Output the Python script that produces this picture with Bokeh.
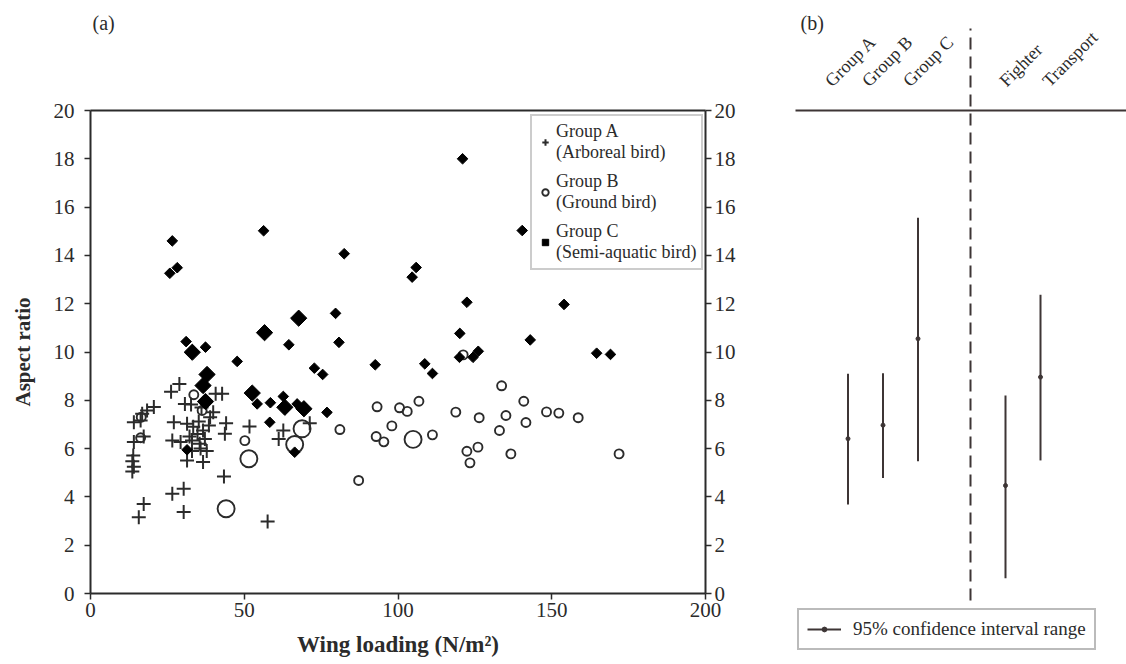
import numpy as np
from bokeh.plotting import figure
from bokeh.layouts import row
from bokeh.models import (Range1d, LinearAxis, SingleIntervalTicker, FixedTicker,
                          Legend, LegendItem, Label)
from bokeh.core.properties import value
from bokeh.embed import file_html
from bokeh.resources import INLINE

SERIF = "Liberation Serif"
INK = "#2b2b2b"
BAR = "#3d3535"

# ---------------- (a) wing loading vs aspect ratio ----------------
# Group A: arboreal birds
a_wing_loading = [28.9, 26.2, 42.8, 40.7, 30.7, 39.9, 32.7,
                  20.6, 18.4, 16.8, 14.1, 16.3,
                  27.1, 31.4, 35.2, 38.5, 44.1, 51.7,
                  43.7, 17.3, 14.1, 26.6, 29.3, 33.0, 35.5, 36.6,
                  13.9, 13.6, 14.1, 13.6,
                  31.4, 36.6, 43.4, 26.6, 30.3, 30.3, 17.3, 15.7, 57.6,
                  62.7, 61.2, 71.3,
                  33.4, 34.8, 37.2, 35.8, 37.8, 33.0, 38.9, 36.1, 32.2]
a_aspect_ratio = [8.68, 8.35, 8.27, 8.27, 7.85, 7.51, 7.83,
                  7.72, 7.58, 7.44, 7.09, 7.16,
                  7.09, 7.03, 7.12, 6.96, 7.05, 6.91,
                  6.61, 6.50, 6.27, 6.34, 6.27, 6.34, 6.20, 6.75,
                  5.71, 5.48, 5.25, 5.05,
                  5.51, 5.44, 4.84, 4.13, 4.34, 3.37, 3.71, 3.16, 2.98,
                  6.75, 6.40, 7.05,
                  6.90, 6.60, 6.40, 6.00, 5.90, 5.90, 7.30, 7.70, 6.50]

# Group B: ground birds (n = species sharing a point)
b_wing_loading = [33.6, 36.3, 16.5, 16.3, 50.2, 51.5, 44.1,
                  68.8, 66.4, 81.1, 87.2,
                  93.2, 100.5, 103.0, 106.8, 98.0, 92.9, 95.4, 104.9, 111.2,
                  118.8, 121.2, 122.4, 126.0, 123.4, 126.4, 133.7, 135.1,
                  133.0, 136.7, 140.9, 141.6, 148.3, 152.3, 158.6, 171.9]
b_aspect_ratio = [8.23, 7.58, 7.30, 6.45, 6.33, 5.58, 3.51,
                  6.82, 6.17, 6.79, 4.68,
                  7.73, 7.69, 7.54, 7.96, 6.94, 6.50, 6.28, 6.38, 6.57,
                  7.51, 9.88, 5.89, 6.06, 5.41, 7.28, 8.60, 7.37,
                  6.75, 5.78, 7.96, 7.08, 7.52, 7.47, 7.28, 5.78]
b_n = [1, 1, 1, 1, 1, 2, 2,
       2, 2, 1, 1,
       1, 1, 1, 1, 1, 1, 1, 2, 1,
       1, 1, 1, 1, 1, 1, 1, 1,
       1, 1, 1, 1, 1, 1, 1, 1]

# Group C: semi-aquatic birds
c_wing_loading = [26.6, 28.2, 25.8, 56.3, 82.5, 105.9, 104.6, 121.0, 140.4,
                  122.4, 154.0, 120.1, 143.0, 120.0, 124.4, 126.1, 164.6, 169.1,
                  108.7, 111.2, 92.6,
                  79.7, 80.8, 67.7, 56.6, 64.5, 72.8, 75.5,
                  31.1, 33.1, 37.4, 47.7, 37.9, 36.6, 37.4, 52.6, 54.2, 58.5,
                  62.7, 63.2, 67.2, 69.4, 76.9, 58.3, 66.4, 31.4]
c_aspect_ratio = [14.60, 13.49, 13.26, 15.02, 14.07, 13.50, 13.10, 18.00, 15.03,
                  12.06, 11.97, 10.77, 10.50, 9.78, 9.78, 10.03, 9.95, 9.90,
                  9.51, 9.11, 9.47,
                  11.60, 10.40, 11.40, 10.80, 10.30, 9.33, 9.07,
                  10.43, 9.99, 10.20, 9.61, 9.07, 8.61, 7.95, 8.30, 7.85, 7.90,
                  8.16, 7.71, 7.85, 7.65, 7.50, 7.09, 5.85, 5.95]
c_n = [1, 1, 1, 1, 1, 1, 1, 1, 1,
       1, 1, 1, 1, 1, 1, 1, 1, 1,
       1, 1, 1,
       1, 1, 2, 2, 1, 1, 1,
       1, 2, 1, 1, 2, 2, 2, 2, 1, 1,
       1, 2, 1, 2, 1, 1, 1, 1]

# ---------------- (b) 95% confidence intervals of aspect ratio ----------------
bird_groups = ["Group A", "Group B", "Group C"]
bird_mean = [6.41, 6.97, 10.55]
bird_low = [3.69, 4.78, 5.48]
bird_high = [9.10, 9.12, 15.56]

aircraft = ["Fighter", "Transport"]
aircraft_mean = [4.47, 8.96]
aircraft_low = [0.63, 5.51]
aircraft_high = [8.20, 12.37]

# ---------------- page geometry ----------------
H = 664
WA, WB = 765, 361                     # widths of the two panels
Y0_PX, Y20_PX = 593, 110              # rows of aspect ratio 0 and 20
X0_PX, X200_PX = 90, 705              # columns of wing loading 0 and 200
px_per_unit = (Y0_PX - Y20_PX) / 20.0
y_start = -(H - Y0_PX) / px_per_unit
y_end = Y0_PX / px_per_unit
px_per_wl = (X200_PX - X0_PX) / 200.0


def y_at(px):
    return (Y0_PX - px) / px_per_unit


def style_axis(ax):
    ax.axis_line_color = INK
    ax.axis_line_width = 2
    ax.major_tick_line_color = INK
    ax.major_tick_line_width = 1.5
    ax.major_tick_in = 0
    ax.major_tick_out = 6
    ax.minor_tick_line_color = None
    ax.major_label_text_font = SERIF
    ax.major_label_text_font_size = "21px"
    ax.major_label_text_color = INK
    ax.major_label_standoff = 8
    ax.axis_label_text_font = SERIF
    ax.axis_label_text_font_style = "bold"
    ax.axis_label_text_font_size = "21px"
    ax.axis_label_text_color = INK


# ---------------- panel (a) ----------------
pa = figure(width=WA, height=H,
            x_range=Range1d(-X0_PX / px_per_wl, (WA - X0_PX) / px_per_wl),
            y_range=Range1d(y_start, y_end),
            output_backend="svg", toolbar_location=None,
            x_axis_location=None, y_axis_location=None,
            min_border_left=0, min_border_right=0,
            min_border_top=0, min_border_bottom=0)
pa.grid.visible = False
pa.outline_line_color = None
pa.background_fill_color = "white"
pa.border_fill_color = "white"

x_axis = LinearAxis(ticker=SingleIntervalTicker(interval=50), fixed_location=0,
                    bounds=(0, 200), axis_label="Wing loading (N/m\u00b2)")
top_edge = LinearAxis(ticker=FixedTicker(ticks=[]), fixed_location=20, bounds=(0, 200))
y_axis = LinearAxis(ticker=SingleIntervalTicker(interval=2), fixed_location=0,
                    bounds=(0, 20), axis_label="Aspect ratio")
y_axis_r = LinearAxis(ticker=SingleIntervalTicker(interval=2), fixed_location=200,
                      bounds=(0, 20))
pa.add_layout(x_axis, "below")
pa.add_layout(top_edge, "above")
pa.add_layout(y_axis, "left")
pa.add_layout(y_axis_r, "right")
for ax in (x_axis, top_edge, y_axis, y_axis_r):
    style_axis(ax)

x_axis.major_label_standoff = 3
x_axis.axis_label_standoff = 12
x_axis.axis_label_text_font_size = "23px"
y_axis.major_label_standoff = 10
y_axis.axis_label_standoff = 16
y_axis_r.major_label_standoff = 3

b_size = [9 if n == 1 else 17 for n in b_n]
c_size = [7.5 if n == 1 else 11.5 for n in c_n]

ra = pa.scatter(a_wing_loading, a_aspect_ratio, marker="cross", size=14,
                line_color=INK, line_width=2)
rb = pa.scatter(b_wing_loading, b_aspect_ratio, marker="circle", size=b_size,
                fill_color=None, line_color=INK, line_width=1.9)
rc = pa.scatter(c_wing_loading, c_aspect_ratio, marker="square", angle=np.pi / 4,
                size=c_size, fill_color="black", line_color="black", line_width=1)

legend_a = Legend(items=[
    LegendItem(label="Group A\n(Arboreal bird)", renderers=[ra]),
    LegendItem(label="Group B\n(Ground bird)", renderers=[rb]),
    LegendItem(label="Group C\n(Semi-aquatic bird)", renderers=[rc]),
], location=(530, H - 270))
legend_a.label_text_font = SERIF
legend_a.label_text_font_size = "18px"
legend_a.label_text_color = INK
legend_a.label_text_line_height = 1.2
legend_a.glyph_width = 16
legend_a.glyph_height = 16
legend_a.label_standoff = 3
legend_a.spacing = 8
legend_a.padding = 5
legend_a.margin = 0
legend_a.border_line_color = "#9a9a9a"
legend_a.border_line_width = 2
pa.add_layout(legend_a)

pa.add_layout(Label(x=0, y=y_at(22), x_offset=2, text="(a)",
                    text_font=SERIF, text_font_size="20px", text_color=INK,
                    text_baseline="middle"))

# ---------------- panel (b) ----------------
PX_PER_SLOT = 35.0
B_LEFT = 795 - WA                     # where the rule of panel (b) starts
xb_start = -B_LEFT / PX_PER_SLOT
xb_end = (WB - B_LEFT) / PX_PER_SLOT

pb = figure(width=WB, height=H, x_range=Range1d(xb_start, xb_end),
            y_range=Range1d(y_start, y_end),
            output_backend="svg", toolbar_location=None,
            x_axis_type=None, y_axis_type=None,
            min_border_left=0, min_border_right=0,
            min_border_top=0, min_border_bottom=0)
pb.outline_line_color = None
pb.background_fill_color = "white"
pb.border_fill_color = "white"

names = bird_groups + aircraft
pos = [i + 1.5 for i in range(len(bird_groups))] + [i + 6 for i in range(len(aircraft))]
means = bird_mean + aircraft_mean
lows = bird_low + aircraft_low
highs = bird_high + aircraft_high

rule = LinearAxis(ticker=FixedTicker(ticks=[]), fixed_location=20, bounds=(0, xb_end))
rule.axis_line_color = BAR
rule.axis_line_width = 2
pb.add_layout(rule, "above")

pb.segment(x0=[5], y0=[y_at(600)], x1=[5], y1=[y_at(28)], line_color=BAR,
           line_width=2, line_dash="12 7")

bars = pb.segment(x0=pos, y0=lows, x1=pos, y1=highs, line_color=BAR, line_width=2)
dots = pb.scatter(pos, means, marker="circle", size=4, fill_color=BAR, line_color=BAR)

label_nudge = [-20, -18, -12, -3, 5]
pb.text(x=pos, y=[20] * len(pos), text=names, angle=np.pi / 4,
        x_offset=label_nudge, y_offset=-27,
        text_align="left", text_baseline="alphabetic",
        text_font=value(SERIF), text_font_size="18px", text_color=INK)

legend_b = Legend(items=[LegendItem(label="95% confidence interval range",
                                    renderers=[bars, dots])],
                  location=(797 - WA, H - 650))
legend_b.label_text_font = SERIF
legend_b.label_text_font_size = "19px"
legend_b.label_text_color = INK
legend_b.glyph_width = 34
legend_b.glyph_height = 12
legend_b.label_standoff = 12
legend_b.padding = 8
legend_b.margin = 0
legend_b.border_line_color = "#777777"
legend_b.border_line_width = 2
pb.add_layout(legend_b)

pb.add_layout(Label(x=0, y=y_at(22), x_offset=5, text="(b)",
                    text_font=SERIF, text_font_size="20px", text_color=INK,
                    text_baseline="middle"))

layout = row(pa, pb)
open("out.html", "w").write(file_html(layout, INLINE))
